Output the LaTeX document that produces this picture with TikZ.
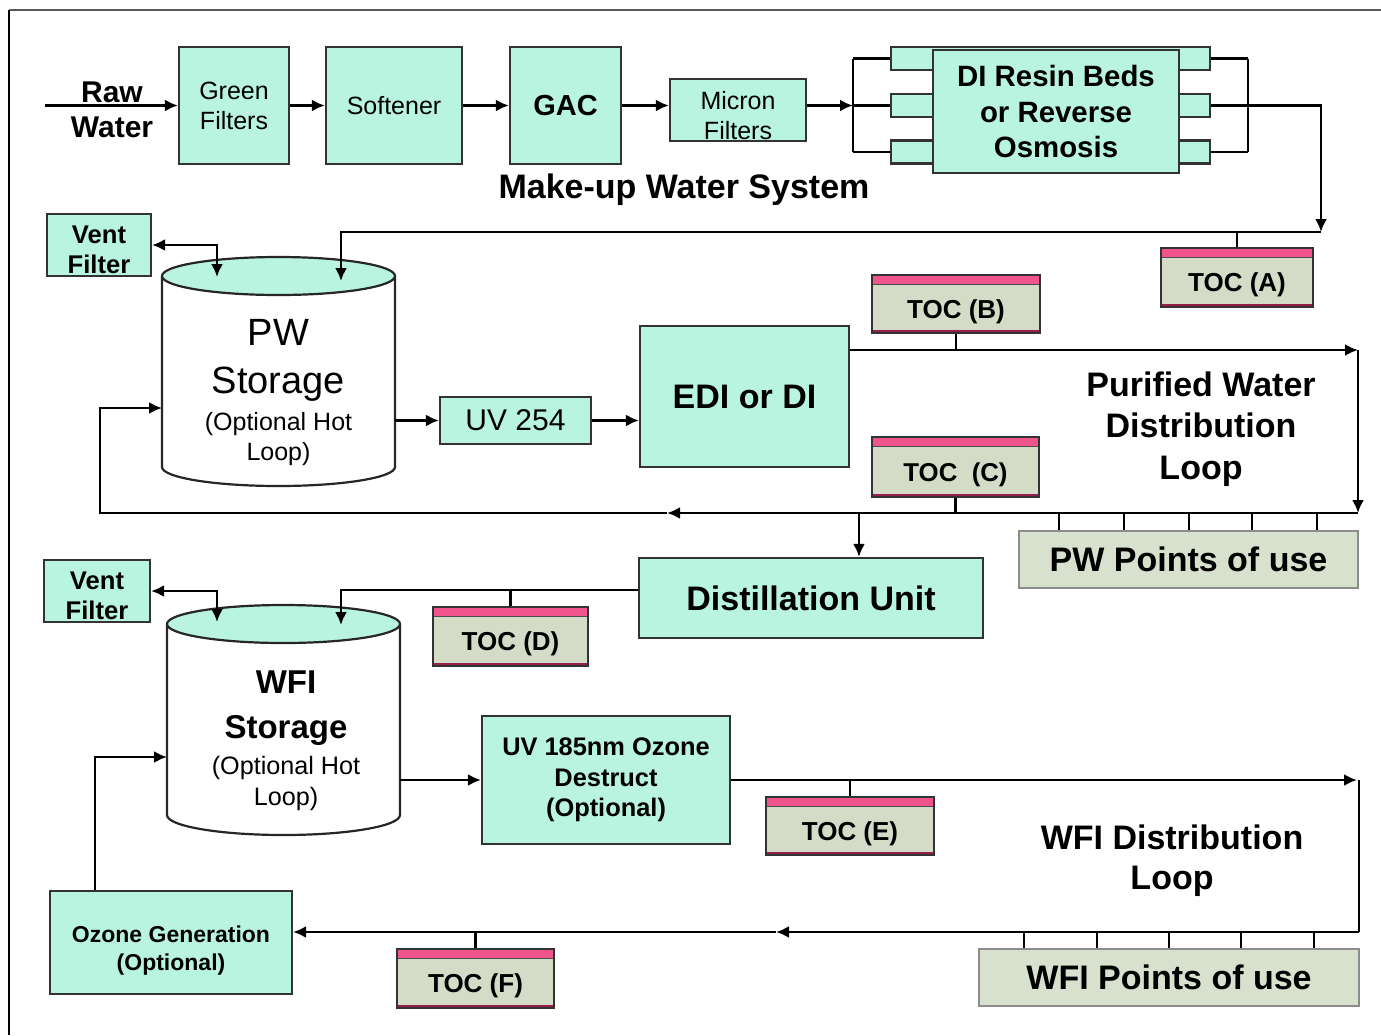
\documentclass[tikz,border=0pt]{standalone}
\usepackage{fontspec}
\setmainfont{Liberation Sans}
\usepackage{xcolor}
\usepackage{tikz}
\usetikzlibrary{shapes, arrows.meta}

\definecolor{mint}{RGB}{184,244,224}
\definecolor{tocgray}{RGB}{212,220,200}
\definecolor{tocpink}{RGB}{240,84,140}
\definecolor{tocred}{RGB}{150,30,75}
\definecolor{pougray}{RGB}{216,225,205}
\newcommand\fs[2]{\fontsize{#1}{#2}\selectfont}

\begin{document}
\begin{tikzpicture}[x=0.5pt, y=-0.5pt, >={Latex[length=6.5pt,width=6pt]}, line width=1.2pt,
  box/.style={draw=black!80, fill=mint, line width=1.1pt, align=center, inner sep=1pt},
  bar/.style={draw=black!80, fill=mint, line width=1.1pt, minimum width=159.5pt, minimum height=11.5pt, inner sep=0pt},
  toc/.style={draw=black!80, fill=tocgray, line width=0.9pt, inner sep=0pt,
    text height=17pt, text depth=2.7pt, font=\bfseries\fs{13}{15},
    path picture={
      \fill[tocpink] (path picture bounding box.north west) rectangle ([yshift=-4.5pt]path picture bounding box.north east);
      \draw[black!70, line width=0.5pt] ([yshift=-4.5pt]path picture bounding box.north west) -- ([yshift=-4.5pt]path picture bounding box.north east);
      \fill[tocred] (path picture bounding box.south west) rectangle ([yshift=1.6pt]path picture bounding box.south east);}},
  pou/.style={draw=black!45, fill=pougray, line width=0.9pt, inner sep=0pt, font=\bfseries\fs{17}{20}},
  tank/.style={draw=black!85, line width=1.1pt},
  vent/.style={box, minimum height=31pt, text height=28.2pt, text depth=0pt, font=\bfseries\fs{12.8}{15}},
  title/.style={align=center, font=\bfseries\fs{17}{20.75}}]
\useasboundingbox (0,0) rectangle (1381,1035);
% frame
\draw[black!65, line width=1.1pt] (9,10) -- (1381,10);
\draw[black, line width=0.8pt] (9,10) -- (9,1035);

% make-up water system
\node[align=center, font=\bfseries\fs{15}{17.5}] (raw) at (112,110) {Raw\\Water};
\node[box, minimum width=55pt, minimum height=58.5pt, font=\fs{12.5}{15}] (green) at (234,105.5) {Green\\Filters};
\node[box, minimum width=68pt, minimum height=58.5pt, font=\fs{12.5}{15}] (soft) at (394,105.5) {Softener};
\node[box, minimum width=55.5pt, minimum height=58.5pt, font=\bfseries\fs{14.5}{17}] (gac) at (565.5,105.5) {GAC};
\node[box, minimum width=68pt, minimum height=31pt, text height=29pt, text depth=0pt, font=\fs{12.5}{15}] (micron) at (738,110) {Micron\\Filters};
\node[bar] (diA) at (1050.5,58.5) {};
\node[bar] (diB) at (1050.5,105.5) {};
\node[bar] (diC) at (1050.5,152) {};
\node[box, minimum width=123pt, minimum height=61.5pt, font=\bfseries\fs{14.7}{17.75}] (diro) at (1056,111.5) {DI Resin Beds\\or Reverse\\Osmosis};
\node[title] (makeup) at (684,190) {Make-up Water System};

\coordinate (rawin) at (45,105.5);
\coordinate (lsplit) at (853,105.5);
\coordinate (rsplit) at (1248,105.5);
\coordinate (mkcorner) at (1321,232);
\draw[->] (rawin) -- (green);
\draw[->] (green) -- (soft);
\draw[->] (soft) -- (gac);
\draw[->] (gac) -- (micron.west |- gac);
\draw[->] (micron.east |- lsplit) -- (lsplit);
\draw (diA.west -| lsplit) -- (diC.west -| lsplit);
\draw (diA.east -| rsplit) -- (diC.east -| rsplit);
\foreach \b in {diA,diB,diC} {
  \draw (\b.west -| lsplit) -- (\b.west);
  \draw (\b.east) -- (\b.east -| rsplit);
}
\draw[->] (rsplit) -| (mkcorner);

% purified water
\node[toc, minimum width=76pt, minimum height=29.5pt] (tocA) at (1237,277.5) {TOC (A)};
\node[vent, minimum width=52pt] (vent1) at (99,245) {Vent\\Filter};
\draw[tank, fill=white] (162,276) -- (162,467) arc[start angle=180, end angle=360, x radius=58.25pt, y radius=9.5pt] -- (395,276);
\draw[tank, fill=mint] (278.5,276) ellipse[x radius=58.25pt, y radius=9.5pt];
\node[align=center, font=\fs{19}{24}] (pwtank) at (278.5,393)
  {PW\\Storage\\[-5.5pt]{\fs{12.5}{15}(Optional Hot}\\[-9pt]{\fs{12.5}{15}Loop)}};
\node[box, minimum width=75.5pt, minimum height=23.5pt, font=\fs{15}{17}] (uv254) at (515.5,420.5) {UV 254};
\node[box, minimum width=104.5pt, minimum height=70.5pt, font=\bfseries\fs{17}{20}] (edi) at (744.5,396.5) {EDI or DI};
\node[toc, minimum width=84pt, minimum height=29pt] (tocB) at (956,304) {TOC (B)};
\node[toc, minimum width=83.5pt, minimum height=30pt, font=\bfseries\fs{12.9}{15}] (tocC) at (955.5,467) {TOC\ \ (C)};
\node[title] (pwloop) at (1201,429) {Purified Water\\Distribution\\Loop};
\node[pou, minimum width=169.5pt, minimum height=28.5pt] (pwpou) at (1188.5,559.5) {PW Points of use};
\node[box, minimum width=172pt, minimum height=40pt, font=\bfseries\fs{17}{20}] (dist) at (811,598) {Distillation Unit};

\coordinate (pwvent) at (217,277);
\coordinate (pwin) at (341,281);
\coordinate (pwout) at (395,420.5);
\coordinate (pwret) at (162,408);
\coordinate (pwtr) at (1358,350);
\coordinate (pwbr) at (1358,513);
\coordinate (pwmid) at (667,513);
\coordinate (pwbl) at (100,513);
\coordinate (pwsplit) at (859,513);
\draw[->] (mkcorner) -| (pwin);
\draw (tocA.north) -- (tocA.north |- mkcorner);
\draw[<->] (vent1.east) -| (pwvent);
\draw[->] (pwout) -- (uv254);
\draw[->] (uv254.east) -- (uv254.east -| edi.west);
\draw[->] (pwtr -| edi.east) -- (pwtr);
\draw[->] (pwtr) -- (pwbr);
\draw[->] (pwbr) -- (pwmid);
\draw[->] (pwmid) -- (pwbl) |- (pwret);
\draw (tocB.south) -- (tocB.south |- pwtr);
\draw (tocC.south) -- (tocC.south |- pwbr);
\draw[->] (pwsplit) -- (pwsplit |- dist.north);
\foreach \x in {1059,1124,1189,1252,1317}
  \draw (\x,513) -- (pwpou.north -| \x,0);

% water for injection
\node[toc, minimum width=77.5pt, minimum height=29.5pt] (tocD) at (510.5,636.5) {TOC (D)};
\node[vent, minimum width=53pt] (vent2) at (97,591) {Vent\\Filter};
\draw[tank, fill=white] (167,624) -- (167,815) arc[start angle=180, end angle=360, x radius=58.25pt, y radius=10pt] -- (400,624);
\draw[tank, fill=mint] (283.5,624) ellipse[x radius=58.25pt, y radius=9.5pt];
\node[align=center, font=\bfseries\fs{16.5}{22.5}] (wfitank) at (286,741)
  {WFI\\Storage\\[-4.5pt]{\mdseries\fs{12.6}{15}(Optional Hot}\\[-7pt]{\mdseries\fs{12.6}{15}Loop)}};
\node[box, minimum width=124pt, minimum height=64pt, font=\bfseries\fs{12.7}{15.25}] (uv185) at (606,780) {UV 185nm Ozone\\Destruct\\(Optional)};
\node[toc, minimum width=84pt, minimum height=29pt] (tocE) at (850,826) {TOC (E)};
\node[title, font=\bfseries\fs{17}{20}] (wfiloop) at (1172,861) {WFI Distribution\\Loop};
\node[pou, minimum width=190pt, minimum height=28.5pt] (wfipou) at (1169,977.5) {WFI Points of use};
\node[box, minimum width=121pt, minimum height=51.5pt, text height=30.5pt, text depth=2.4pt, font=\bfseries\fs{11.5}{14}] (ozone) at (171,942.5) {Ozone Generation\\(Optional)};
\node[toc, minimum width=78.5pt, minimum height=29.5pt] (tocF) at (475.5,978.5) {TOC (F)};

\coordinate (dout) at ([yshift=4pt]dist.west);
\coordinate (wfivent) at (217,622);
\coordinate (wfiin) at (341,625);
\coordinate (wfiout) at (400,780);
\coordinate (wfiret) at (167,757);
\coordinate (wfitr) at (1357,780);
\coordinate (wfibr) at (1359,932);
\coordinate (wfimid) at (776,932);
\draw[->] (dout) -| (wfiin);
\draw (tocD.north) -- (tocD.north |- dout);
\draw[<->] (vent2.east) -| (wfivent);
\draw[->] (wfiout) -- (uv185);
\draw[->] (uv185.east) -- (wfitr);
\draw (wfitr -| wfibr) -- (wfibr);
\draw[->] (wfibr) -- (wfimid);
\draw[->] (wfimid) -- (ozone.east |- wfimid);
\draw[->] ([xshift=23pt]ozone.north west) |- (wfiret);
\draw (tocE.north) -- (tocE.north |- wfitr);
\draw (tocF.north) -- (tocF.north |- wfimid);
\foreach \x in {1024,1097,1169,1241,1314}
  \draw (\x,932) -- (wfipou.north -| \x,0);
\end{tikzpicture}
\end{document}
